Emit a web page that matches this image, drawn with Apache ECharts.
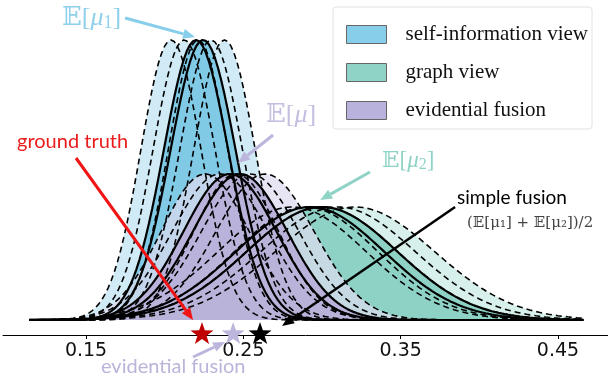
<!DOCTYPE html>
<html>
<head>
<meta charset="utf-8">
<script src="https://cdn.jsdelivr.net/npm/echarts@6/dist/echarts.min.js"></script>
<style>
html, body { margin: 0; padding: 0; background: #fff; }
#chart { width: 608px; height: 383px; }
</style>
</head>
<body>
<div id="chart"></div>
<script>
// sampled range of the density curves
var xFrom = 0.114, xTo = 0.466, xStep = 0.002;
var tickValues = [0.15, 0.25, 0.35, 0.45];

// self-information view (mean, sd of each curve, peak height)
var selfMeansDash = [0.2040, 0.2123, 0.2212, 0.2295, 0.2380];
var selfSdDash = [0.0192, 0.0198, 0.0190, 0.0200, 0.0196];
var selfMeansSolid = [0.2199, 0.2244];
var selfSdSolid = [0.0205, 0.0207];
var selfPeak = 280;

// graph view
var graphMeansDash = [0.2810, 0.2899, 0.3000, 0.3102, 0.3210];
var graphSdDash = [0.0470, 0.0455, 0.0480, 0.0490, 0.0505];
var graphMeansSolid = [0.2924, 0.3000];
var graphSdSolid = [0.0470, 0.0478];
var graphPeak = 113;

// evidential fusion
var fuseMeansDash = [0.2257, 0.2352, 0.2454, 0.2543, 0.2638];
var fuseSdDash = [0.0280, 0.0305, 0.0270, 0.0310, 0.0312];
var fuseMeansSolid = [0.2415, 0.2479];
var fuseSdSolid = [0.0296, 0.0300];
var fusePeak = 146;

// stars on the axis: ground truth, evidential fusion, simple fusion
var starX = [0.2237, 0.2435, 0.2606];
var starColors = ['#c00000', '#bdb6dd', '#000000'];

// annotation arrows (data coords)
var arrowFrom = [[0.1748, 302], [0.2689, 185], [0.3305, 148], [0.1436, 162], [0.3846, 113], [0.2180, -37]];
var arrowTo = [[0.2193, 283], [0.2466, 157], [0.2988, 120], [0.2180, 0], [0.2746, -6], [0.2384, -22]];
var arrowColors = ['#87ceeb', '#bcb6dc', '#8fd3c6', '#f01414', '#000000', '#bcb6dc'];

function curve(mu, sd, peak) {
  var pts = [];
  for (var i = 0; ; i++) {
    var x = xFrom + i * xStep;
    if (x > xTo + 1e-9) break;
    var z = (x - mu) / sd;
    pts.push([x, peak * Math.exp(-0.5 * z * z)]);
  }
  return pts;
}
function envelope(list) {
  var out = [];
  for (var i = 0; i < list[0].length; i++) {
    var m = 0;
    for (var k = 0; k < list.length; k++) m = Math.max(m, list[k][i][1]);
    out.push([list[0][i][0], m]);
  }
  return out;
}

var views = [
  { name: 'self-information view', md: selfMeansDash, sd: selfSdDash, ms: selfMeansSolid, ss: selfSdSolid, peak: selfPeak,
    dark: 'rgba(124,200,229,0.95)', light: 'rgba(200,232,243,0.85)', legend: '#87ceeb' },
  { name: 'graph view', md: graphMeansDash, sd: graphSdDash, ms: graphMeansSolid, ss: graphSdSolid, peak: graphPeak,
    dark: 'rgba(136,207,194,0.92)', light: 'rgba(205,236,230,0.8)', legend: '#8fd3c6' },
  { name: 'evidential fusion', md: fuseMeansDash, sd: fuseSdDash, ms: fuseMeansSolid, ss: fuseSdSolid, peak: fusePeak,
    dark: 'rgba(183,175,216,0.92)', light: 'rgba(222,219,238,0.72)', legend: '#b9b2dc' }
];

var fills = [], lines = [];
views.forEach(function (v) {
  var dash = v.md.map(function (m, i) { return curve(m, v.sd[i], v.peak); });
  var solid = v.ms.map(function (m, i) { return curve(m, v.ss[i], v.peak); });
  fills.push({
    type: 'line', name: v.name + ' band', data: envelope(dash.concat(solid)), showSymbol: false, silent: true,
    lineStyle: { width: 0, opacity: 0 }, areaStyle: { color: v.light, opacity: 1 }, itemStyle: { color: v.legend }
  });
  fills.push({
    type: 'line', name: v.name, data: envelope(solid), showSymbol: false, silent: true,
    lineStyle: { width: 0, opacity: 0 }, areaStyle: { color: v.dark, opacity: 1 }, itemStyle: { color: v.legend }
  });
  dash.forEach(function (d) {
    lines.push({ type: 'line', data: d, showSymbol: false, silent: true,
      lineStyle: { color: '#000', width: 1.6, type: [6, 4] } });
  });
  solid.forEach(function (d) {
    lines.push({ type: 'line', data: d, showSymbol: false, silent: true,
      lineStyle: { color: '#000', width: 2.2 } });
  });
});

var stars = {
  type: 'scatter', silent: true, z: 5,
  symbol: 'path://M0,-10L2.351,-3.236L9.511,-3.09L3.804,1.236L5.878,8.09L0,4L-5.878,8.09L-3.804,1.236L-9.511,-3.09L-2.351,-3.236Z',
  symbolSize: [23, 22],
  data: starX.map(function (x, i) { return { value: [x, -13], itemStyle: { color: starColors[i], opacity: 1 } }; })
};

var chart = echarts.init(document.getElementById('chart'));
chart.setOption({
  animation: false,
  backgroundColor: '#fff',
  grid: { left: 3, right: 0, top: 0, bottom: 48 },
  xAxis: {
    type: 'value', min: 0.0972, max: 0.4818,
    axisLine: { onZero: false, lineStyle: { color: '#000', width: 1 } },
    axisTick: { customValues: tickValues, length: 4, lineStyle: { color: '#000' } },
    axisLabel: { customValues: tickValues, margin: 7, fontSize: 19, color: '#111', fontFamily: 'DejaVu Sans',
      formatter: function (v) { return v.toFixed(2); } },
    splitLine: { show: false }
  },
  yAxis: { type: 'value', min: -15, max: 320, show: false },
  legend: {
    left: 333, top: 7, orient: 'vertical',
    data: views.map(function (v) { return v.name; }),
    icon: 'rect', itemWidth: 40, itemHeight: 18, itemGap: 17,
    padding: [17, 4, 8, 13],
    backgroundColor: '#fff', borderColor: '#e2e2e2', borderWidth: 1, borderRadius: 3,
    itemStyle: { borderColor: '#666', borderWidth: 1 },
    textStyle: { fontFamily: 'Liberation Serif', fontSize: 21, color: '#111', padding: [0, 0, 0, 14] },
    selectedMode: false
  },
  series: fills.concat(lines, [stars])
});

// arrows and text annotations
var graphics = [];
arrowFrom.forEach(function (p, i) {
  var a = chart.convertToPixel({ gridIndex: 0 }, p);
  var b = chart.convertToPixel({ gridIndex: 0 }, arrowTo[i]);
  var dx = b[0] - a[0], dy = b[1] - a[1], len = Math.sqrt(dx * dx + dy * dy);
  var ux = dx / len, uy = dy / len, hl = 12, hw = 5;
  var bx = b[0] - ux * hl, by = b[1] - uy * hl;
  var w = i === 4 ? 2.5 : 3;
  graphics.push({ type: 'line', z: 10, shape: { x1: a[0], y1: a[1], x2: bx, y2: by },
    style: { stroke: arrowColors[i], lineWidth: w } });
  graphics.push({ type: 'polygon', z: 10, shape: { points: [[b[0], b[1]], [bx - uy * hw, by + ux * hw], [bx + uy * hw, by - ux * hw]] },
    style: { fill: arrowColors[i] } });
});

function mathText(x, y, sub, color, size) {
  return {
    type: 'text', z: 11, x: x, y: y,
    style: {
      text: '{e|𝔼[}{m|μ}' + (sub ? '{s|' + sub + '}' : '') + '{e|]}',
      rich: {
        e: { fontFamily: 'Liberation Serif, DejaVu Serif', fontSize: size, fill: color },
        m: { fontFamily: 'Liberation Serif', fontStyle: 'italic', fontSize: size, fill: color },
        s: { fontFamily: 'Liberation Serif', fontSize: size * 0.7, fill: color, padding: [size * 0.35, 0, 0, 0] }
      }
    }
  };
}
graphics.push(mathText(62, 5, '1', '#8fd0ea', 26));
graphics.push(mathText(266, 102, '', '#c3bfe0', 26));
graphics.push(mathText(382, 149, '2', '#8fd3c6', 23));
graphics.push({ type: 'text', z: 11, x: 457, y: 188,
  style: { text: 'simple fusion', font: '19px Lato', fill: '#000' } });
graphics.push({ type: 'text', z: 11, x: 467, y: 216,
  style: { text: '(𝔼[μ₁] + 𝔼[μ₂])/2', font: '15px "DejaVu Serif"', fill: '#444' } });
graphics.push({ type: 'text', z: 11, x: 17, y: 132,
  style: { text: 'ground truth', font: '20px Lato', fill: '#ea1b1b' } });
graphics.push({ type: 'text', z: 11, x: 101, y: 357,
  style: { text: 'evidential fusion', font: '20px Lato', fill: '#bab4da' } });

chart.setOption({ graphic: graphics });
</script>
</body>
</html>
